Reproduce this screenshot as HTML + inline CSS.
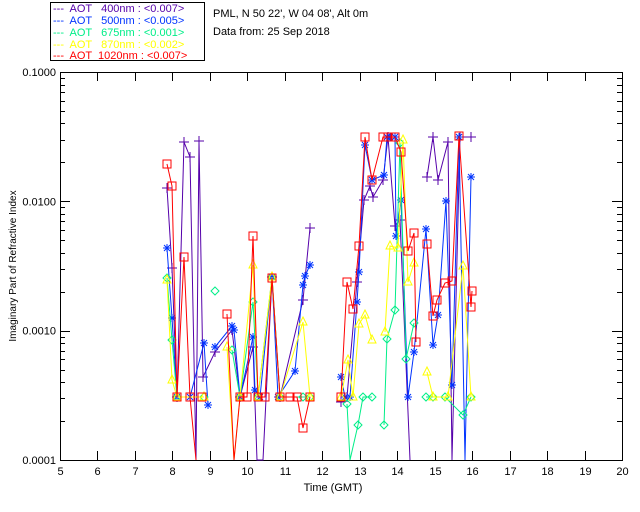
<!DOCTYPE html>
<html><head><meta charset="utf-8"><style>
html,body{margin:0;padding:0;background:#fff;}
svg{display:block;font-family:"Liberation Sans",sans-serif;}
text{white-space:pre;}
</style></head><body>
<svg id="s" width="640" height="512" viewBox="0 0 640 512" xmlns="http://www.w3.org/2000/svg">
<rect x="0" y="0" width="640" height="512" fill="#fff"/>
<rect x="50.5" y="2.5" width="154" height="58" fill="none" stroke="#000"/>
<g font-size="11">
<text x="53" y="12" fill="#5500aa" xml:space="preserve">---  AOT   400nm : &lt;0.007&gt;</text>
<text x="53" y="24" fill="#0033ff" xml:space="preserve">---  AOT   500nm : &lt;0.005&gt;</text>
<text x="53" y="36" fill="#00ee88" xml:space="preserve">---  AOT   675nm : &lt;0.001&gt;</text>
<text x="53" y="48" fill="#ffff00" xml:space="preserve">---  AOT   870nm : &lt;0.002&gt;</text>
<text x="53" y="59" fill="#ff0000" xml:space="preserve">---  AOT  1020nm : &lt;0.007&gt;</text>
<text x="213" y="17" fill="#000">PML, N 50 22', W 04 08', Alt 0m</text>
<text x="213" y="35" fill="#000">Data from: 25 Sep 2018</text>
<text x="333" y="491" fill="#000" text-anchor="middle">Time (GMT)</text>
<text transform="translate(16,266) rotate(-90)" fill="#000" text-anchor="middle" font-size="10">Imaginary Part of Refractive Index</text>
</g>
<g id="ax" stroke="#000" fill="none"></g>
<g id="lbl" font-size="11" fill="#000"></g>
<g id="dat" fill="none" stroke-width="1"></g>
</svg>
<script>
var NS="http://www.w3.org/2000/svg";
function el(p,t,a,txt){var e=document.createElementNS(NS,t);for(var k in a)e.setAttribute(k,a[k]);if(txt!=null)e.textContent=txt;p.appendChild(e);return e;}
var ax=document.getElementById('ax'),lb=document.getElementById('lbl'),dt=document.getElementById('dat');
var X0=60,X1=622,Y0=72,Y1=460;
el(ax,'rect',{x:X0+.5,y:Y0+.5,width:X1-X0,height:Y1-Y0});
for(var h=5;h<=20;h++){var x=X0+(h-5)*(X1-X0)/15;x=Math.round(x)+.5;
 el(ax,'line',{x1:x,y1:Y1,x2:x,y2:Y1-9});el(ax,'line',{x1:x,y1:Y0,x2:x,y2:Y0+9});
 el(lb,'text',{x:x,y:Y1+15,'text-anchor':'middle'},String(h));}
var dec=(Y1-Y0)/3;
for(var d=0;d<3;d++)for(var m=1;m<10;m++){var y=Y1-d*dec-Math.log10(m)*dec;y=Math.round(y)+.5;var L=m==1?10:5;
 el(ax,'line',{x1:X0,y1:y,x2:X0+L,y2:y});el(ax,'line',{x1:X1,y1:y,x2:X1-L,y2:y});}
var yl=["0.0001","0.0010","0.0100","0.1000"];
for(var d=0;d<4;d++){el(lb,'text',{x:56,y:Y1-d*dec+4,'text-anchor':'end'},yl[d]);}
var S=[
{c:'#5500aa',m:'+',p:[[167,188],[172,268],[177,397],[184,142],[190,157],[196,460],[199,141],[203,377],[215,352],[232,330],[240,397],[253,347],[257,460],[263,460],[272,277],[280,397],[303,300],[310,228],null,[341,402],[347,397],[357,282],[364,200],[370,186],[373,197],[383,180],[388,137],[395,226],[400,220],[410,460],null,[427,177],[433,137],[438,180],[448,142],[452,460],[460,137],[471,137]]},
{c:'#0033ff',m:'*',p:[[167,248],[172,318],[177,397],[190,397],[204,343],[208,405],null,[215,347],[232,326],[234,330],[240,397],[253,337],[255,390],[260,397],[272,277],[278,397],[295,371],[303,285],[305,276],[310,265],null,[341,377],[345,397],[350,397],[357,302],[359,272],[365,145],[372,180],[384,175],[387,137],[390,137],[395,137],[396,236],[401,200],[408,397],[414,352],[426,229],[433,345],[438,315],[446,201],[452,385],[459,137],[465,460],[471,177]]},
{c:'#00ee88',m:'d',p:[[167,278],[172,340],[177,397],[204,397],null,[215,291],null,[232,350],[240,397],[253,302],[258,397],[272,277],[280,397],[303,397],[310,397],null,[347,404],[350,460],[358,425],[363,397],[372,397],null,[384,425],[387,339],[395,310],[400,143],[406,359],[414,323],null,[426,397],[433,397],[445,397],[463,415],[471,397]]},
{c:'#ffff00',m:'t',p:[[167,280],[172,380],[177,397],[204,397],null,[227,347],[234,460],[240,397],[253,265],[258,397],[272,277],[280,397],[303,322],[310,397],null,[341,397],[348,360],[353,397],[359,324],[365,315],[372,340],null,[385,332],[390,246],[398,248],[403,140],[408,282],[414,263],null,[427,372],[433,397],[448,397],[463,266],[471,397]]},
{c:'#ff0000',m:'s',p:[[167,164],[172,186],[177,397],[184,257],[190,397],[196,460],null,[202,397],null,[227,314],[234,460],[240,397],[247,397],[253,236],[258,397],[265,397],[272,278],[280,397],[290,397],[297,397],[303,428],[310,397],null,[341,397],[347,282],[353,309],[359,246],[365,137],[372,180],[383,137],[388,137],[395,137],[401,152],[408,251],[414,233],[416,342],null,[427,244],[433,316],[437,300],[445,283],[452,281],[459,136],[471,307],[472,291]]}
];
S.forEach(function(s){var segs=[[]];s.p.forEach(function(q){if(q==null)segs.push([]);else segs[segs.length-1].push(q);});
 segs.forEach(function(g){if(g.length>1)el(dt,'polyline',{points:g.map(function(q){return q.join(',')}).join(' '),stroke:s.c});});
 s.p.forEach(function(q){if(!q||q[1]>=458)return;var x=q[0],y=q[1];
  if(s.m=='+')el(dt,'path',{d:'M'+(x-5)+' '+y+'h10M'+x+' '+(y-5)+'v10',stroke:s.c});
  else if(s.m=='*')el(dt,'path',{d:'M'+(x-4)+' '+y+'h8M'+x+' '+(y-4)+'v8M'+(x-3)+' '+(y-3)+'l6 6M'+(x-3)+' '+(y+3)+'l6 -6',stroke:s.c});
  else if(s.m=='d')el(dt,'path',{d:'M'+x+' '+(y-4)+'l4 4l-4 4l-4 -4z',stroke:s.c});
  else if(s.m=='t')el(dt,'path',{d:'M'+x+' '+(y-5)+'l4 8h-8z',stroke:s.c});
  else el(dt,'rect',{x:x-4,y:y-4,width:8,height:8,stroke:s.c});});
});
</script>
</body></html>
